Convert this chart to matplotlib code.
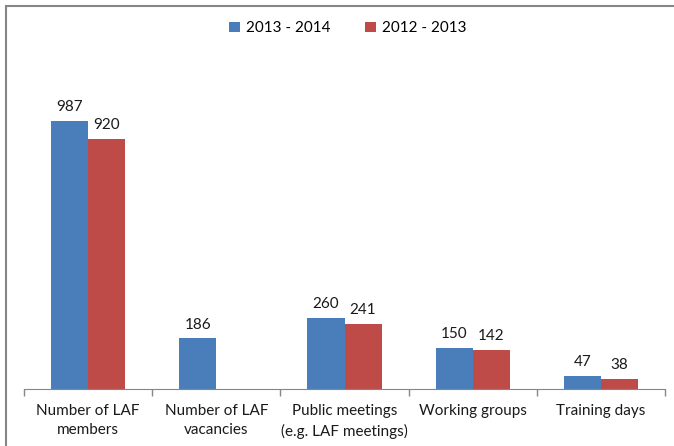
import numpy as np
import matplotlib
import matplotlib.pyplot as plt
from matplotlib.patches import Rectangle

matplotlib.use('AGG')

categories = ["Number of LAF\nmembers", "Number of LAF\nvacancies",
              "Public meetings\n(e.g. LAF meetings)", "Working groups", "Training days"]
series_names = ["2013 - 2014", "2012 - 2013"]
values_1314 = [987, 186, 260, 150, 47]
values_1213 = [920, np.nan, 241, 142, 38]
colors = ['#4A7EBB', '#BE4B48']

plt.rcParams['font.family'] = ['Lato', 'DejaVu Sans']

fig = plt.figure(figsize=(6.74, 4.46), dpi=100)
ax = fig.add_axes([24 / 674, 57 / 446, 641 / 674, 326 / 446])

x = np.arange(len(categories))
w = 0.29
for i, (vals, name) in enumerate(zip([values_1314, values_1213], series_names)):
    pos = x + (i - 0.5) * w
    ax.bar(pos, vals, w, color=colors[i], label=name)
    for p, v in zip(pos, vals):
        if not np.isnan(v):
            ax.annotate(f"{v:g}", (p, v), xytext=(0, 5), textcoords='offset points',
                        ha='center', va='bottom', fontsize=11, color='#1a1a1a')

ax.set_xlim(-0.5, len(categories) - 0.5)
ax.set_ylim(0, 1200)
ax.set_yticks([])
ax.set_xticks(x)
ax.set_xticklabels(categories, fontsize=11, color='#1a1a1a', linespacing=1.45)
ax.set_xticks(np.arange(-0.5, len(categories)), minor=True)
ax.tick_params(axis='x', which='major', length=0, pad=11)
ax.tick_params(axis='x', which='minor', length=5, color='#868686', width=1)
for s in ['top', 'right', 'left']:
    ax.spines[s].set_visible(False)
ax.spines['bottom'].set_color('#868686')

ax.legend(loc='upper center', bbox_to_anchor=(0.505, 1.17), ncol=2, frameon=False,
          fontsize=11, handlelength=0.7, handleheight=0.7, columnspacing=2.3,
          handletextpad=0.4)

fig.patches.append(Rectangle((6 / 674, -0.1), 1.2, (446 - 6) / 446 + 0.1,
                             transform=fig.transFigure, fill=False,
                             edgecolor='#868686', linewidth=1.5))

fig.savefig('out.png', dpi=100)
